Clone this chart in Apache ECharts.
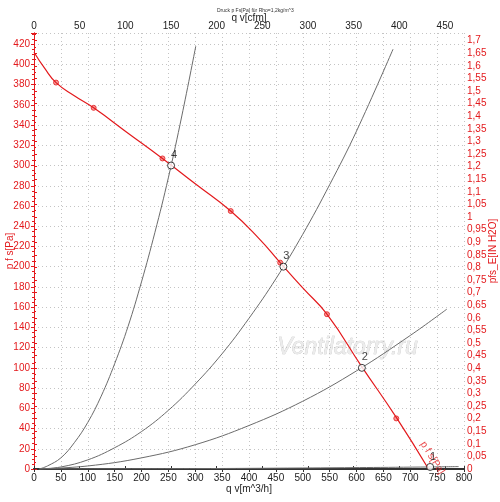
<!DOCTYPE html>
<html>
<head>
<meta charset="utf-8">
<script src="https://cdn.jsdelivr.net/npm/echarts@6/dist/echarts.min.js"></script>
<style>
  html, body { margin: 0; padding: 0; background: #fff; }
  #chart { width: 500px; height: 502px; }
</style>
</head>
<body>
<div id="chart"></div>
<script>
const RED = '#e3191c';
const GRAY = '#6b6b6b';
const FONT = 'Liberation Sans';

const Q_MAX = 800;                 // m^3/h
const CFM_MAX = Q_MAX / 1.699;     // same range in cfm
const P_MAX = 431;                 // Pa
const INH2O_MAX = P_MAX / 249.09;  // same range in in H2O

// fan curve p f s [Pa] over q v [m^3/h]
const fanCurve = [
  [0, 412], [20, 396], [41, 382], [75, 369], [111, 357], [175, 332],
  [239, 307], [300, 282], [366, 255], [420, 227], [458, 204], [500, 179],
  [545, 153], [610, 101], [674, 51], [734, 0]
];
const fanMarkers = [
  [41, 382], [111, 357], [239, 307], [366, 255], [458, 204], [545, 153], [674, 50]
];

// system curves, numbered as in the chart
const system4 = [
  [10, 0], [25, 3], [50, 11], [75, 26], [100, 46], [125, 72], [150, 104],
  [175, 141], [200, 185], [225, 234], [250, 288], [275, 349], [301, 418]
];
const system3 = [
  [10, 0], [50, 2], [100, 9], [150, 21], [200, 37], [250, 58], [300, 84],
  [350, 114], [400, 149], [450, 188], [500, 232], [550, 281], [600, 334], [668, 415]
];
const system2 = [
  [10, 0], [100, 3], [200, 11], [300, 24], [400, 43], [500, 67], [600, 97],
  [700, 132], [768, 158]
];
const system1 = [[10, 0], [300, 0.4], [500, 1], [737, 2], [790, 2.4]];

// operating points
const opNames = ['1', '2', '3', '4'];
const opPoints = [[737, 2], [610, 100], [464, 200], [255, 300]];

const fanLabelPos = [741, 11];
const fanLabelText = 'p f s[Pa]';

function fmtComma(v, step) {
  const r = Math.round(v / step) * step;
  if (Math.abs(r - v) > step * 1e-3) return '';
  return String(Math.round(r * 100) / 100).replace('.', ',');
}

const chart = echarts.init(document.getElementById('chart'));

const axisText = { color: '#222', fontSize: 10, fontFamily: FONT };
const redText = { color: RED, fontSize: 10, fontFamily: FONT };
const dotted = { show: true, lineStyle: { color: '#c4c4c4', type: [1, 3], width: 1 } };

const systems = [system1, system2, system3, system4];

chart.setOption({
  animation: false,
  textStyle: { fontFamily: FONT },
  title: {
    text: 'Druck p Fs[Pa] für Rho=1,2kg/m^3',
    left: 212, top: 3,
    textStyle: { fontSize: 5, fontWeight: 'normal', color: '#333', fontFamily: FONT }
  },
  grid: { left: 34, right: 36, top: 33, bottom: 33, outerBoundsMode: 'none', containLabel: false },
  xAxis: [{
    type: 'value', position: 'bottom', min: 0, max: Q_MAX, interval: 50,
    name: 'q v[m^3/h]', nameLocation: 'middle', nameGap: 15, nameMoveOverlap: false,
    nameTextStyle: axisText,
    axisLine: { lineStyle: { color: '#333', width: 2 } },
    axisTick: { show: true, length: 3, lineStyle: { color: '#333' } },
    axisLabel: Object.assign({ margin: 4 }, axisText),
    splitLine: dotted
  }, {
    type: 'value', position: 'top', min: 0, max: CFM_MAX, interval: 50,
    name: 'q v[cfm]', nameLocation: 'middle', nameGap: 10, nameMoveOverlap: false,
    nameTextStyle: axisText,
    axisLine: { lineStyle: { color: '#333', width: 2 } },
    axisTick: { show: true, length: 3, lineStyle: { color: '#333' } },
    axisLabel: Object.assign({ margin: 2, formatter: v => fmtComma(v, 50) }, axisText),
    splitLine: { show: false }
  }],
  yAxis: [{
    type: 'value', position: 'left', min: 0, max: P_MAX, interval: 20,
    name: 'p f s[Pa]', nameLocation: 'middle', nameGap: 19, nameRotate: 90, nameMoveOverlap: false,
    nameTextStyle: redText,
    axisLine: { show: true, lineStyle: { color: RED, width: 1 } },
    axisTick: { show: true, length: 3, lineStyle: { color: RED } },
    minorTick: { show: true, splitNumber: 4, length: 2, lineStyle: { color: RED } },
    axisLabel: Object.assign({ margin: 4, formatter: v => fmtComma(v, 20) }, redText),
    splitLine: dotted
  }, {
    type: 'value', position: 'right', min: 0, max: INH2O_MAX, interval: 0.05,
    name: 'pfs_E[IN H2O]', nameLocation: 'middle', nameGap: 24, nameRotate: 90, nameMoveOverlap: false,
    nameTextStyle: redText,
    axisLine: { show: true, lineStyle: { color: RED, width: 1 } },
    axisTick: { show: true, length: 3, lineStyle: { color: RED } },
    minorTick: { show: true, splitNumber: 2, length: 2, lineStyle: { color: RED } },
    axisLabel: Object.assign({ margin: 3, formatter: v => fmtComma(v, 0.05) }, redText),
    splitLine: { show: false }
  }],
  graphic: [{
    type: 'text', left: 277, top: 336, silent: true,
    style: {
      text: 'Ventilatorry.ru', fontSize: 23, fontStyle: 'italic', fontFamily: FONT,
      fill: '#ececec', stroke: '#bdbdbd', lineWidth: 0.5
    }
  }],
  series: systems.map(d => ({
    type: 'line', data: d, smooth: 0.4, showSymbol: false, silent: true,
    lineStyle: { color: GRAY, width: 1 }
  })).concat([{
    type: 'line', data: fanCurve, smooth: 0.5, showSymbol: false, silent: true,
    lineStyle: { color: RED, width: 1.2 }
  }, {
    type: 'scatter', data: fanMarkers, symbol: 'circle', symbolSize: 5, silent: true,
    itemStyle: { color: 'rgba(240,90,90,0.75)', borderColor: RED, borderWidth: 1 }
  }, {
    type: 'scatter', silent: true, symbol: 'circle', symbolSize: 7,
    data: opPoints.map((p, i) => ({ value: p, name: opNames[i] })),
    itemStyle: { color: '#fff', borderColor: '#111', borderWidth: 1 },
    label: {
      show: true, position: 'top', offset: [3, 4], formatter: '{b}',
      color: '#111', fontSize: 11, fontFamily: FONT
    },
    z: 5
  }, {
    type: 'scatter', silent: true, symbolSize: 0,
    data: [{ value: fanLabelPos, name: fanLabelText }],
    label: {
      show: true, position: 'inside', formatter: '{b}', rotate: -58,
      color: RED, fontSize: 10, fontFamily: FONT
    }
  }])
});
</script>
</body>
</html>
